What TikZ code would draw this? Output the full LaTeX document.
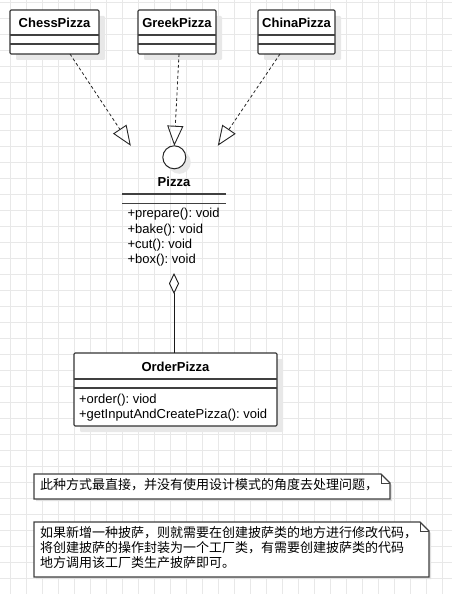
\documentclass[tikz,border=0pt]{standalone}
\usepackage{fontspec}
\setmainfont{Liberation Sans}
\newfontfamily\cjk{Noto Sans CJK SC}
\usetikzlibrary{arrows.meta, shadows, positioning}
\frenchspacing

\begin{document}
\begin{tikzpicture}[x=1pt, y=-1pt,
    every node/.style={font=\fontsize{13}{15}\selectfont, inner sep=0pt, outer sep=0pt},
    classname/.style={font=\fontsize{13}{15}\selectfont\bfseries},
    gridline/.style={black!9, line width=0.8pt},
    umlbox/.style={draw=black!80, line width=1.1pt, fill=white, rounded corners=1.2pt, anchor=north west,
        drop shadow={shadow xshift=6pt, shadow yshift=-6pt, fill=black!9, opacity=1}},
    sepline/.style={black!75, line width=1.1pt},
    realize/.style={black!85, line width=0.8pt, dash pattern=on 3pt off 2.5pt,
        -{Triangle[open, length=20pt, width=16pt, line width=0.9pt]}},
    aggregate/.style={black!90, line width=0.9pt, -{Diamond[open, length=21pt, width=10pt]}},
    notebox/.style={draw=black!75, line width=1.3pt, fill=white,
        drop shadow={shadow xshift=2pt, shadow yshift=-2pt, fill=black!12, opacity=1}},
    notefold/.style={black!75, line width=1pt}]
    \useasboundingbox[fill=white] (0,0) rectangle (452,594);
    % grid
    \foreach \gx in {10,26,...,442} \draw[gridline] (\gx,0) -- (\gx,594);
    \foreach \gy in {2,18,...,594} \draw[gridline] (0,\gy) -- (452,\gy);
    % concrete pizzas
    \foreach \cname/\lx/\rx/\ctext in {chess/10/99/ChessPizza, greek/138/216/GreekPizza, china/258/335/ChinaPizza}{
        \node[umlbox, minimum width={\rx-\lx}, minimum height=44] (\cname) at (\lx,10) {};
        \node[classname] (\cname name) at ({(\lx+\rx)/2},22.5) {\ctext};
        \draw[sepline] (\lx,35) -- (\rx,35) (\lx,44) -- (\rx,44);
    }
    % Pizza interface
    \node[circle, draw=black!85, line width=1pt, fill=white, minimum size=23pt,
        drop shadow={shadow xshift=5pt, shadow yshift=-5pt, fill=black!9, opacity=1}] (pizzaball) at (174.3,157.3) {};
    \node[classname] (pizzaname) at (174,182) {Pizza};
    \draw[sepline] (122,194) -- (226,194) (122,203.5) -- (226,203.5);
    \foreach \op [count=\i] in {{+prepare(): void},{+bake(): void},{+cut(): void},{+box(): void}}
        \node[anchor=base west] (pizzaop\i) at (127.5,{202.4+15.3*\i}) {\op};
    % realizations
    \coordinate (tipchess) at ([xshift=-43.5pt]pizzaball.north);
    \coordinate (tipchina) at ([xshift=43.5pt]pizzaball.north);
    \draw[realize] ([xshift=15.5pt]chess.south) -- (tipchess);
    \draw[realize] ([xshift=2pt]greek.south) -- (pizzaball.north);
    \draw[realize] ([xshift=-16.5pt]china.south) -- (tipchina);
    % OrderPizza
    \node[umlbox, minimum width=203, minimum height=73] (order) at (74,353) {};
    \node[classname] (ordername) at (175.5,367) {OrderPizza};
    \draw[sepline] (74,379) -- (277,379) (74,388) -- (277,388);
    \node[anchor=base west] (orderop1) at (79,403.5) {+order(): viod};
    \node[anchor=base west] (orderop2) at (79,418.5) {+getInputAndCreatePizza(): void};
    % aggregation
    \coordinate (pizzabottom) at (174,273);
    \draw[aggregate] (order.north -| pizzabottom) -- (pizzabottom);
    % notes
    \draw[notebox] (34,474) -- (381,474) -- (390,483) -- (390,499) -- (34,499) -- cycle;
    \draw[notefold] (381,474) -- (381,483) -- (390,483);
    \node[anchor=base west] (note1) at (40,489) {\cjk 此种方式最直接，并没有使用设计模式的角度去处理问题，};
    \draw[notebox] (34,522) -- (420,522) -- (429,531) -- (429,577) -- (34,577) -- cycle;
    \draw[notefold] (420,522) -- (420,531) -- (429,531);
    \foreach \nline [count=\i] in {如果新增一种披萨，则就需要在创建披萨类的地方进行修改代码，,将创建披萨的操作封装为一个工厂类，有需要创建披萨类的代码,地方调用该工厂类生产披萨即可。}
        \node[anchor=base west] (note2line\i) at (40,{522+15*\i}) {\cjk \nline};
\end{tikzpicture}
\end{document}
